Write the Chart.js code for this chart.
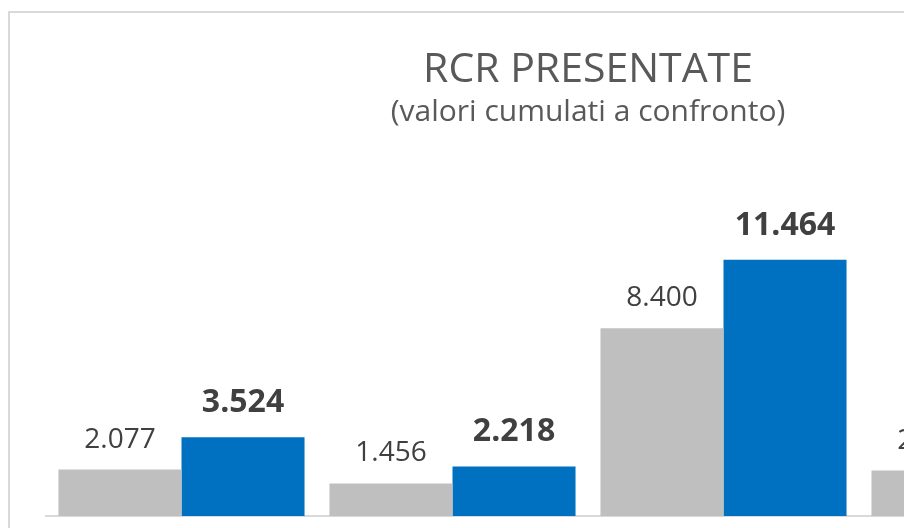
<!DOCTYPE html>
<html>
<head>
<meta charset="utf-8">
<script src="https://cdn.jsdelivr.net/npm/chart.js@4.4.1/dist/chart.umd.min.js"></script>
<style>
    html, body { margin: 0; padding: 0; background: #fff; overflow: hidden; }
    #frame {
        position: absolute; left: 8px; top: 11px;
        width: 1156px; height: 540px;
        border: 2px solid #d9d9d9;
    }
    #chart { display: block; }
</style>
</head>
<body>
<div id="frame"><canvas id="chart" width="1156" height="530"></canvas></div>
<script>
const categories = ['A', 'B', 'C', 'D'];
const previousValues = [2077, 1456, 8400, 2031];
const currentValues = [3524, 2218, 11464, 3050];

const fmt = v => String(v).replace(/\B(?=(\d{3})+(?!\d))/g, '.');

// value labels above each bar
const barLabels = {
    id: 'barLabels',
    afterDatasetsDraw(chart) {
        const ctx = chart.ctx;
        chart.data.datasets.forEach((ds, di) => {
            const bold = di === 1;
            ctx.save();
            ctx.font = bold ? 'bold 32px "Open Sans"' : '28px "Open Sans"';
            ctx.fillStyle = '#404040';
            ctx.textAlign = 'center';
            ctx.textBaseline = 'alphabetic';
            chart.getDatasetMeta(di).data.forEach((bar, i) => {
                ctx.fillText(fmt(ds.data[i]), bar.x, bar.y - (bold ? 25 : 22));
            });
            ctx.restore();
        });
    }
};

new Chart(document.getElementById('chart'), {
    type: 'bar',
    data: {
        labels: categories,
        datasets: [
            { label: 'precedente', data: previousValues, backgroundColor: '#bfbfbf' },
            { label: 'attuale', data: currentValues, backgroundColor: '#0070c0' }
        ]
    },
    options: {
        responsive: false,
        animation: false,
        layout: { padding: { left: 36, right: 36, bottom: 27 } },
        datasets: { bar: { barPercentage: 1, categoryPercentage: 0.908 } },
        plugins: {
            legend: { display: false },
            tooltip: { enabled: false },
            title: {
                display: true,
                text: 'RCR PRESENTATE',
                color: '#595959',
                font: { family: 'Open Sans', size: 41, weight: 'normal', lineHeight: 1.1 },
                padding: { top: 35, bottom: 0 }
            },
            subtitle: {
                display: true,
                text: '(valori cumulati a confronto)',
                color: '#595959',
                font: { family: 'Open Sans', size: 30, lineHeight: 1.2 },
                padding: { top: 1, bottom: 73 }
            }
        },
        scales: {
            x: {
                grid: { display: false, drawTicks: false },
                ticks: { display: false },
                border: { color: '#d9d9d9', width: 2 }
            },
            y: { display: false, min: 0, max: 14000 }
        }
    },
    plugins: [barLabels]
});
</script>
</body>
</html>
